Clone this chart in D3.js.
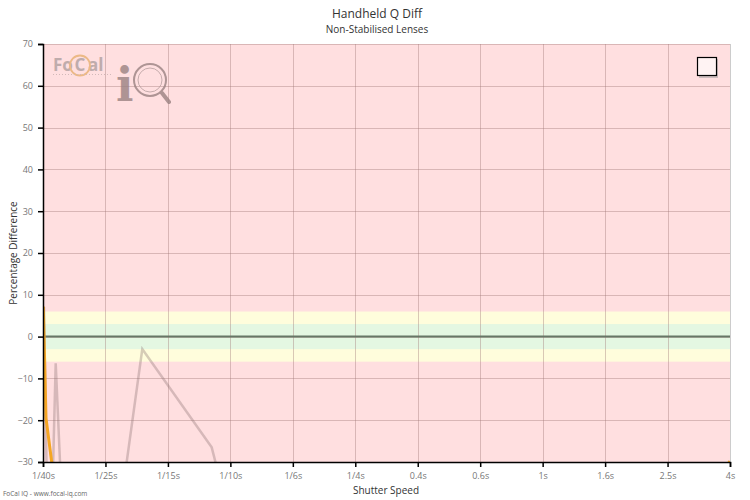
<!DOCTYPE html>
<html><head><meta charset="utf-8">
<script src="https://cdn.jsdelivr.net/npm/d3@7/dist/d3.min.js"></script>
<style>
body{margin:0;background:#fff;}
svg{display:block;font-family:"Open Sans",sans-serif;}
</style></head>
<body>
<svg id="c" width="750" height="500"></svg>
<script>
// ---- data ----
const tickSeconds = [0.025, 0.039657, 0.062908, 0.09979, 0.1583, 0.2511, 0.39831, 0.63183, 1.00226, 1.5899, 2.522, 4.0];
const tickLabels = ["1/40s","1/25s","1/15s","1/10s","1/6s","1/4s","0.4s","0.6s","1s","1.6s","2.5s","4s"];
const yTicks = [-30,-20,-10,0,10,20,30,40,50,60,70];
const bands = [ {from:-6, to:6, color:"#fffddc"}, {from:-3, to:3, color:"#e4f7e2"} ];
const orangeX = [0.025055, 0.02556, 0.02797, 2.5, 4.0];
const orangeY = [7.2, -19.5, -42, -50, -29.8];
const grayX = [0.025185, 0.025845, 0.026523, 0.02746, 0.02877, 0.04351, 0.05206, 0.08693, 0.0952, 0.4];
const grayY = [7.1, -45, -50, -6.4, -41, -45, -3.0, -26.5, -38, -60];

// ---- layout ----
const svg = d3.select("#c");
const L=43, R=730, T=44, B=462;
const x = d3.scaleLog().domain([0.025, 4]).range([L, R]);
const y = d3.scaleLinear().domain([-30, 70]).range([B, T]);

svg.append("defs").append("clipPath").attr("id","clip")
  .append("rect").attr("x",L).attr("y",T).attr("width",R-L).attr("height",B-T);

// background
svg.append("rect").attr("x",L).attr("y",T).attr("width",R-L).attr("height",B-T).attr("fill","#ffdfe0");
bands.forEach(b=>{
  svg.append("rect").attr("x",L).attr("width",R-L)
    .attr("y",y(b.to)).attr("height",y(b.from)-y(b.to)).attr("fill",b.color);
});

// grid
const grid = svg.append("g").attr("stroke","#a07878").attr("stroke-opacity",0.4).attr("stroke-width",1);
yTicks.forEach(v=>{ grid.append("line").attr("x1",L).attr("x2",R).attr("y1",Math.round(y(v))+0.5).attr("y2",Math.round(y(v))+0.5); });
tickSeconds.forEach(v=>{ grid.append("line").attr("y1",T).attr("y2",B).attr("x1",Math.round(x(v))+0.5).attr("x2",Math.round(x(v))+0.5); });
svg.append("line").attr("x1",R+0.5).attr("x2",R+0.5).attr("y1",T).attr("y2",B).attr("stroke","#cccccc");

// zero line
svg.append("line").attr("x1",L).attr("x2",R).attr("y1",y(0)).attr("y2",y(0))
  .attr("stroke","#667766").attr("stroke-width",2);

// logo
const logo = svg.append("g").attr("opacity",0.8);
logo.append("text").attr("x",53).attr("y",71).attr("font-size",17).attr("font-weight","bold")
  .attr("fill","#b0a0a0").text("Fo");
logo.append("text").attr("x",80).attr("y",71).attr("text-anchor","middle").attr("font-size",17).attr("font-weight","bold")
  .attr("fill","#b0a0a0").text("C");
logo.append("text").attr("x",88).attr("y",71).attr("font-size",17).attr("font-weight","bold")
  .attr("fill","#b0a0a0").text("al");
logo.append("circle").attr("cx",80).attr("cy",65.5).attr("r",10).attr("fill","none").attr("stroke","#e8b070").attr("stroke-width",1.8);
logo.append("line").attr("x1",53).attr("x2",112).attr("y1",74.5).attr("y2",74.5).attr("stroke","#c8b0b0").attr("stroke-dasharray","1,2");
logo.append("text").attr("x",116).attr("y",101).attr("font-size",46).attr("font-weight","bold")
  .attr("font-family","DejaVu Serif").attr("fill","#9a8282").text("i");
logo.append("circle").attr("cx",150).attr("cy",80).attr("r",16).attr("fill","none").attr("stroke","#9a8282").attr("stroke-width",2);
logo.append("circle").attr("cx",150).attr("cy",80).attr("r",12).attr("fill","none").attr("stroke","#b8a0a0").attr("stroke-width",1);
logo.append("line").attr("x1",162).attr("y1",93).attr("x2",169).attr("y2",102).attr("stroke","#9a8282").attr("stroke-width",4).attr("stroke-linecap","round");

// series
const lineGen = d3.line().x(d=>x(d[0])).y(d=>y(d[1]));
const plot = svg.append("g").attr("clip-path","url(#clip)");
plot.append("path").datum(grayX.map((v,i)=>[v,grayY[i]])).attr("d",lineGen)
  .attr("fill","none").attr("stroke","#8a7070").attr("stroke-opacity",0.35).attr("stroke-width",2.5);
plot.append("path").datum(orangeX.map((v,i)=>[v,orangeY[i]])).attr("d",lineGen)
  .attr("fill","none").attr("stroke","#f5a623").attr("stroke-width",3);

// axes
const yAxis = d3.axisLeft(y).tickValues(yTicks).tickSize(5).tickPadding(5);
const gy = svg.append("g").attr("transform",`translate(${L},0)`).call(yAxis);
const xAxis = d3.axisBottom(x).tickValues(tickSeconds).tickFormat((d,i)=>tickLabels[i]).tickSize(5).tickPadding(6);
const gx = svg.append("g").attr("transform",`translate(0,${B})`).call(xAxis);
[gx,gy].forEach(g=>{
  g.select(".domain").attr("stroke","#000").attr("stroke-width",1.5);
  g.selectAll(".tick line").attr("stroke","#000").attr("stroke-width",1.5);
  g.selectAll(".tick text").attr("fill","#777").attr("font-size",9).attr("font-family","Open Sans, sans-serif");
});

// titles
svg.append("text").attr("x",377).attr("y",18).attr("text-anchor","middle").attr("font-size",12).attr("fill","#333").text("Handheld Q Diff");
svg.append("text").attr("x",377).attr("y",33).attr("text-anchor","middle").attr("font-size",10).attr("fill","#333").text("Non-Stabilised Lenses");
svg.append("text").attr("x",386).attr("y",494).attr("text-anchor","middle").attr("font-size",10).attr("fill","#333").text("Shutter Speed");
svg.append("text").attr("transform",`translate(17,${(T+B)/2}) rotate(-90)`).attr("text-anchor","middle").attr("font-size",10).attr("fill","#333").text("Percentage Difference");
svg.append("text").attr("x",3).attr("y",496).attr("font-size",6.5).attr("fill","#666").text("FoCal IQ - www.focal-iq.com");

// legend box
svg.append("rect").attr("x",699).attr("y",59).attr("width",19).attr("height",19).attr("fill","#999").attr("opacity",0.5);
svg.append("rect").attr("x",697.5).attr("y",57.5).attr("width",19).attr("height",18).attr("fill","#fff3f3").attr("stroke","#000").attr("stroke-width",1.2);
</script>
</body></html>
